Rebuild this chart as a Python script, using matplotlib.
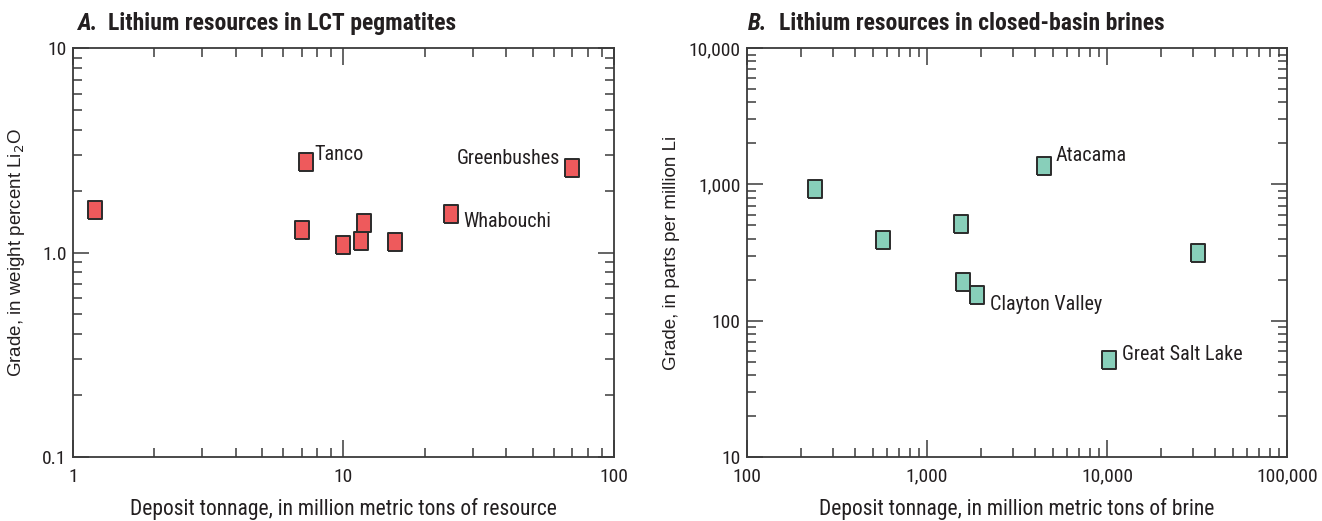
import matplotlib as mpl

mpl.use("Agg")

import matplotlib.pyplot as plt
from matplotlib import font_manager
from matplotlib.ticker import FixedLocator, FixedFormatter, LogLocator, NullFormatter

# Panel A: LCT pegmatites
peg_tonnage = [1.21, 7.03, 7.28, 10.0, 11.6, 11.9, 15.5, 25.0, 70.0]
peg_grade = [1.61, 1.29, 2.76, 1.09, 1.14, 1.40, 1.12, 1.54, 2.58]
peg_names = ["", "", "Tanco", "", "", "", "", "Whabouchi", "Greenbushes"]

# Panel B: closed-basin brines
brine_tonnage = [239, 570, 1540, 1590, 1900, 4440, 10200, 32000]
brine_grade = [929, 389, 514, 193, 155, 1375, 51, 312]
brine_names = ["", "", "", "", "Clayton Valley", "Atacama", "Great Salt Lake", ""]

# label offsets in points (dx, dy, ha)
LABEL_POS = {
    "Tanco": (6, 6, "left"),
    "Greenbushes": (-8.5, 7, "right"),
    "Whabouchi": (8.5, -5.5, "left"),
    "Atacama": (8.5, 7, "left"),
    "Clayton Valley": (9.5, -7, "left"),
    "Great Salt Lake": (9.5, 4.5, "left"),
}

installed = {f.name for f in font_manager.fontManager.ttflist}
NARROW, STRETCH = "DejaVu Sans", "condensed"
for name in ["Liberation Sans Narrow", "Roboto Condensed", "Open Sans Condensed", "Noto Sans Condensed"]:
    if name in installed:
        NARROW, STRETCH = name, "normal"
        break
WIDE = "Liberation Sans"

mpl.rcParams.update({"font.family": [NARROW, "DejaVu Sans"], "font.stretch": STRETCH})

DARK = "#231F20"
AXIS = "#3A3A3A"
# slightly taller than wide, as in the original
RECT = [(-0.86, -1), (0.86, -1), (0.86, 1), (-0.86, 1), (-0.86, -1)]


def style_axis(ax, xlim, ylim, xticks, xlabels, yticks, ylabels):
    ax.set_xscale("log")
    ax.set_yscale("log")
    ax.set_xlim(*xlim)
    ax.set_ylim(*ylim)
    for s in ax.spines.values():
        s.set_color(AXIS)
        s.set_linewidth(1.3)
    ax.xaxis.set_major_locator(FixedLocator(xticks))
    ax.xaxis.set_major_formatter(FixedFormatter(xlabels))
    ax.yaxis.set_major_locator(FixedLocator(yticks))
    ax.yaxis.set_major_formatter(FixedFormatter(ylabels))
    ax.xaxis.set_minor_locator(LogLocator(base=10, subs=range(2, 10)))
    ax.yaxis.set_minor_locator(LogLocator(base=10, subs=range(2, 10)))
    ax.xaxis.set_minor_formatter(NullFormatter())
    ax.yaxis.set_minor_formatter(NullFormatter())
    ax.tick_params(which="both", direction="in", top=True, right=True, color=AXIS, width=1.1)
    ax.tick_params(which="major", axis="x", length=12.5, pad=8, labelsize=14)
    ax.tick_params(which="major", axis="y", length=11.5, pad=4.5, labelsize=14)
    ax.tick_params(which="minor", length=6.5)
    for lab in ax.get_xticklabels() + ax.get_yticklabels():
        lab.set_color(DARK)


def draw_points(ax, xs, ys, names, color):
    ax.plot(xs, ys, ls="none", marker=RECT, markersize=12.5, markerfacecolor=color,
            markeredgecolor="#2B2B2B", markeredgewidth=1.4, zorder=5)
    for x, y, name in zip(xs, ys, names):
        if not name:
            continue
        dx, dy, ha = LABEL_POS[name]
        ax.annotate(name, (x, y), xytext=(dx, dy), textcoords="offset points",
                    ha=ha, va="center", fontsize=14.5, color=DARK)


def title(fig, x, letter, text):
    fig.text(x, 0.954, letter, fontsize=17, fontweight="bold", style="italic", color=DARK, va="center")
    fig.text(x + 0.0235, 0.954, text, fontsize=17, fontweight="bold", color=DARK, va="center")


fig = plt.figure(figsize=(13.22, 5.21), dpi=100)
ax_a = fig.add_axes([0.0552, 0.1234, 0.4092, 0.7839])
ax_b = fig.add_axes([0.5651, 0.1234, 0.4085, 0.7839])

style_axis(ax_a, (1, 100), (0.1, 10), [1, 10, 100], ["1", "10", "100"],
           [0.1, 1, 10], ["0.1", "1.0", "10"])
draw_points(ax_a, peg_tonnage, peg_grade, peg_names, "#EE5A5C")
ax_a.set_xlabel("Deposit tonnage, in million metric tons of resource", fontsize=15.5, color=DARK)
ax_a.set_ylabel("Grade, in weight percent Li$_2$O", fontsize=13.5, color=DARK, family=WIDE,
                stretch="normal")
ax_a.xaxis.set_label_coords(0.5, -0.1)
ax_a.yaxis.set_label_coords(-0.085, 0.5)

style_axis(ax_b, (100, 100000), (10, 10000), [100, 1000, 10000, 100000],
           ["100", "1,000", "10,000", "100,000"], [10, 100, 1000, 10000],
           ["10", "100", "1,000", "10,000"])
draw_points(ax_b, brine_tonnage, brine_grade, brine_names, "#88CFBA")
ax_b.set_xlabel("Deposit tonnage, in million metric tons of brine", fontsize=15.5, color=DARK)
ax_b.set_ylabel("Grade, in parts per million Li", fontsize=13.5, color=DARK, family=WIDE,
                stretch="normal")
ax_b.xaxis.set_label_coords(0.5, -0.1)
ax_b.yaxis.set_label_coords(-0.125, 0.5)

title(fig, 0.0585, "A.", "Lithium resources in LCT pegmatites")
title(fig, 0.5655, "B.", "Lithium resources in closed-basin brines")

fig.savefig("out.png", dpi=100)
